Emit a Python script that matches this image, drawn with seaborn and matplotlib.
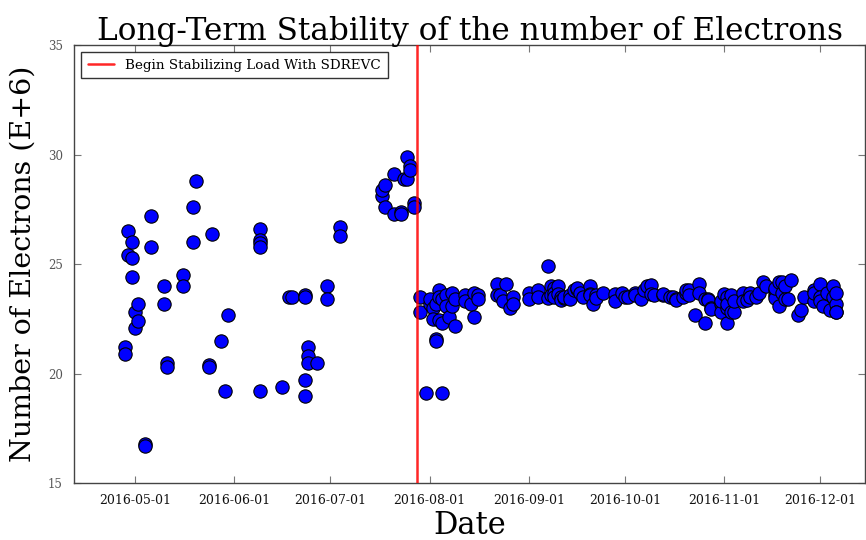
import matplotlib
matplotlib.use("Agg")
import matplotlib.pyplot as plt
import matplotlib.dates as mdates
import pandas as pd
import seaborn as sns

# Electron counts (in units of 1e6) before the SDREVC load change
dates_early = [
    "2016-04-28", "2016-04-28",
    "2016-04-29", "2016-04-29",
    "2016-04-30", "2016-04-30", "2016-04-30",
    "2016-05-01", "2016-05-01",
    "2016-05-02", "2016-05-02",
    "2016-05-04", "2016-05-04",
    "2016-05-06", "2016-05-06",
    "2016-05-10", "2016-05-10",
    "2016-05-11", "2016-05-11",
    "2016-05-16", "2016-05-16",
    "2016-05-19", "2016-05-19",
    "2016-05-20",
    "2016-05-24", "2016-05-24",
    "2016-05-25",
    "2016-05-28",
    "2016-05-29",
    "2016-05-30",
    "2016-06-09", "2016-06-09", "2016-06-09", "2016-06-09", "2016-06-09",
    "2016-06-16",
    "2016-06-18",
    "2016-06-19",
    "2016-06-23", "2016-06-23", "2016-06-23", "2016-06-23",
    "2016-06-24", "2016-06-24", "2016-06-24",
    "2016-06-27",
    "2016-06-30", "2016-06-30",
    "2016-07-04", "2016-07-04",
    "2016-07-17", "2016-07-17",
    "2016-07-18", "2016-07-18",
    "2016-07-21", "2016-07-21",
    "2016-07-23", "2016-07-23",
    "2016-07-24",
    "2016-07-25", "2016-07-25",
    "2016-07-26", "2016-07-26",
    "2016-07-27", "2016-07-27",
]
electrons_early = [
    21.2, 20.9,
    26.5, 25.4,
    26.0, 25.3, 24.4,
    22.8, 22.1,
    23.2, 22.4,
    16.8, 16.7,
    27.2, 25.8,
    24.0, 23.2,
    20.5, 20.3,
    24.5, 24.0,
    27.6, 26.0,
    28.8,
    20.4, 20.3,
    26.4,
    21.5,
    19.2,
    22.7,
    26.6, 26.1, 25.95, 25.8, 19.2,
    19.4,
    23.5,
    23.5,
    23.6, 23.5, 19.7, 19.0,
    21.2, 20.8, 20.5,
    20.5,
    24.0, 23.4,
    26.7, 26.3,
    28.1, 28.4,
    28.6, 27.6,
    29.1, 27.3,
    27.4, 27.3,
    28.9,
    29.9, 28.9,
    29.5, 29.3,
    27.8, 27.6,
]

# Electron counts after the load began to be stabilized
dates_late = [
    "2016-07-29", "2016-07-29",
    "2016-07-31",
    "2016-08-01", "2016-08-01",
    "2016-08-02", "2016-08-02",
    "2016-08-03", "2016-08-03", "2016-08-03",
    "2016-08-04", "2016-08-04", "2016-08-04",
    "2016-08-05", "2016-08-05", "2016-08-05",
    "2016-08-06", "2016-08-06",
    "2016-08-07",
    "2016-08-08", "2016-08-08",
    "2016-08-09", "2016-08-09",
    "2016-08-12", "2016-08-12",
    "2016-08-14",
    "2016-08-15", "2016-08-15",
    "2016-08-16", "2016-08-16",
    "2016-08-22", "2016-08-22",
    "2016-08-23",
    "2016-08-24",
    "2016-08-25",
    "2016-08-26",
    "2016-08-27", "2016-08-27",
    "2016-09-01", "2016-09-01",
    "2016-09-04", "2016-09-04",
    "2016-09-07", "2016-09-07",
    "2016-09-08", "2016-09-08",
    "2016-09-09", "2016-09-09", "2016-09-09",
    "2016-09-10", "2016-09-10",
    "2016-09-11", "2016-09-11",
    "2016-09-12", "2016-09-12",
    "2016-09-14", "2016-09-14",
    "2016-09-15",
    "2016-09-16", "2016-09-16",
    "2016-09-17",
    "2016-09-18",
    "2016-09-20", "2016-09-20", "2016-09-20",
    "2016-09-21",
    "2016-09-22", "2016-09-22",
    "2016-09-24",
    "2016-09-28", "2016-09-28",
    "2016-09-30",
    "2016-10-01",
    "2016-10-02",
    "2016-10-04", "2016-10-04",
    "2016-10-06",
    "2016-10-07",
    "2016-10-08",
    "2016-10-09", "2016-10-09",
    "2016-10-10",
    "2016-10-13", "2016-10-13",
    "2016-10-15",
    "2016-10-16",
    "2016-10-17", "2016-10-17",
    "2016-10-19",
    "2016-10-20", "2016-10-20",
    "2016-10-21", "2016-10-21",
    "2016-10-23",
    "2016-10-24", "2016-10-24",
    "2016-10-26", "2016-10-26",
    "2016-10-27", "2016-10-27",
    "2016-10-28", "2016-10-28",
    "2016-10-31", "2016-10-31", "2016-10-31",
    "2016-11-01",
    "2016-11-02", "2016-11-02", "2016-11-02", "2016-11-02",
    "2016-11-03", "2016-11-03",
    "2016-11-04", "2016-11-04",
    "2016-11-07", "2016-11-07",
    "2016-11-08",
    "2016-11-09", "2016-11-09",
    "2016-11-11",
    "2016-11-12",
    "2016-11-13",
    "2016-11-14",
    "2016-11-17", "2016-11-17", "2016-11-17", "2016-11-17",
    "2016-11-18", "2016-11-18",
    "2016-11-19", "2016-11-19",
    "2016-11-20", "2016-11-20",
    "2016-11-21",
    "2016-11-22",
    "2016-11-24",
    "2016-11-25",
    "2016-11-26",
    "2016-11-29", "2016-11-29", "2016-11-29",
    "2016-12-01", "2016-12-01", "2016-12-01",
    "2016-12-02",
    "2016-12-03",
    "2016-12-04",
    "2016-12-05", "2016-12-05",
    "2016-12-06", "2016-12-06", "2016-12-06", "2016-12-06",
]
electrons_late = [
    23.5, 22.8,
    19.1,
    23.2, 23.4,
    23.0, 22.5,
    21.6, 21.5, 23.2,
    23.8, 23.5, 22.45,
    19.1, 22.3, 23.4,
    23.6, 23.1,
    22.6,
    23.7, 23.1,
    23.4, 22.2,
    23.6, 23.3,
    23.2,
    23.7, 22.6,
    23.6, 23.4,
    24.1, 23.6,
    23.6,
    23.3,
    24.1,
    23.0,
    23.5, 23.2,
    23.7, 23.4,
    23.8, 23.5,
    24.9, 23.45,
    24.0, 23.6,
    23.9, 23.7, 23.5,
    24.0, 23.65,
    23.5, 23.35,
    23.45, 23.5,
    23.6, 23.4,
    23.8,
    23.85, 23.9,
    23.7,
    23.5,
    24.0, 23.65, 23.6,
    23.2,
    23.6, 23.45,
    23.7,
    23.65, 23.3,
    23.7,
    23.5,
    23.5,
    23.7, 23.6,
    23.43,
    23.8,
    24.0,
    24.05, 23.65,
    23.6,
    23.6, 23.65,
    23.5,
    23.5,
    23.4, 23.35,
    23.5,
    23.7, 23.8,
    23.8, 23.6,
    22.7,
    24.1, 23.7,
    23.4, 22.3,
    23.4, 23.35,
    23.0, 22.95,
    23.2, 22.8, 23.3,
    23.66,
    22.3, 23.5, 23.0, 23.2,
    23.6, 22.8,
    22.8, 23.3,
    23.7, 23.3,
    23.35,
    23.7, 23.5,
    23.5,
    23.7,
    24.2,
    24.0,
    23.6, 23.8, 23.45, 23.9,
    23.1, 24.2,
    23.7, 24.2,
    24.0, 23.4,
    23.4,
    24.3,
    22.7,
    22.9,
    23.5,
    23.3, 23.8, 23.7,
    24.1, 23.5, 23.3,
    23.1,
    23.7,
    22.9,
    24.0, 23.5,
    23.2, 23.7, 22.8, 22.8,
]

load_start = "2016-07-28"
load_label = "Begin Stabilizing Load With SDREVC"
y_ticks = [15, 20, 25, 30, 35]

df = pd.DataFrame({
    "Date": pd.to_datetime(dates_early + dates_late),
    "Electrons": electrons_early + electrons_late,
})

sns.set_theme(style="white")
plt.rcParams["font.family"] = ["DejaVu Serif"]
plt.rcParams["text.color"] = "black"
plt.rcParams["axes.labelcolor"] = "black"

fig = plt.figure(figsize=(8.66, 5.4), dpi=100)
ax = fig.add_axes([0.0855, 0.105, 0.9135, 0.8115])

sns.scatterplot(data=df, x="Date", y="Electrons", ax=ax,
                color="#0000ff", edgecolor="black", linewidth=0.8,
                s=92, zorder=3, legend=False)

ax.axvline(pd.Timestamp(load_start), color="red", lw=1.8, alpha=0.85,
           zorder=4, label=load_label)

ax.set_xlim(pd.Timestamp("2016-04-12"), pd.Timestamp("2016-12-15"))
ax.set_ylim(15, 35)
ax.set_yticks(y_ticks)
ax.xaxis.set_major_locator(mdates.MonthLocator())
ax.xaxis.set_major_formatter(mdates.DateFormatter("%Y-%m-%d"))

ax.tick_params(axis="both", which="major", direction="in", length=5,
               width=0.8, color="#777777", top=True, right=True,
               bottom=True, left=True)
ax.tick_params(axis="x", labelsize=9, labelcolor="#111111", pad=8)
ax.tick_params(axis="y", labelsize=8.5, labelcolor="#555555", pad=8)

for spine in ax.spines.values():
    spine.set_color("#444444")
    spine.set_linewidth(1.0)

ax.set_title("Long-Term Stability of the number of Electrons",
             fontsize=22.4, pad=4, color="black")
ax.set_xlabel("Date", fontsize=22, labelpad=2, color="black")
ax.set_ylabel("Number of Electrons (E+6)", fontsize=20.5, labelpad=8,
              color="black")

leg = ax.legend(loc="upper left", fontsize=9.7, frameon=True, fancybox=False,
                borderaxespad=0.5, handlelength=2.0, borderpad=0.5)
leg.get_frame().set_edgecolor("black")
leg.get_frame().set_linewidth(1.0)

fig.savefig("out.png", dpi=100)
